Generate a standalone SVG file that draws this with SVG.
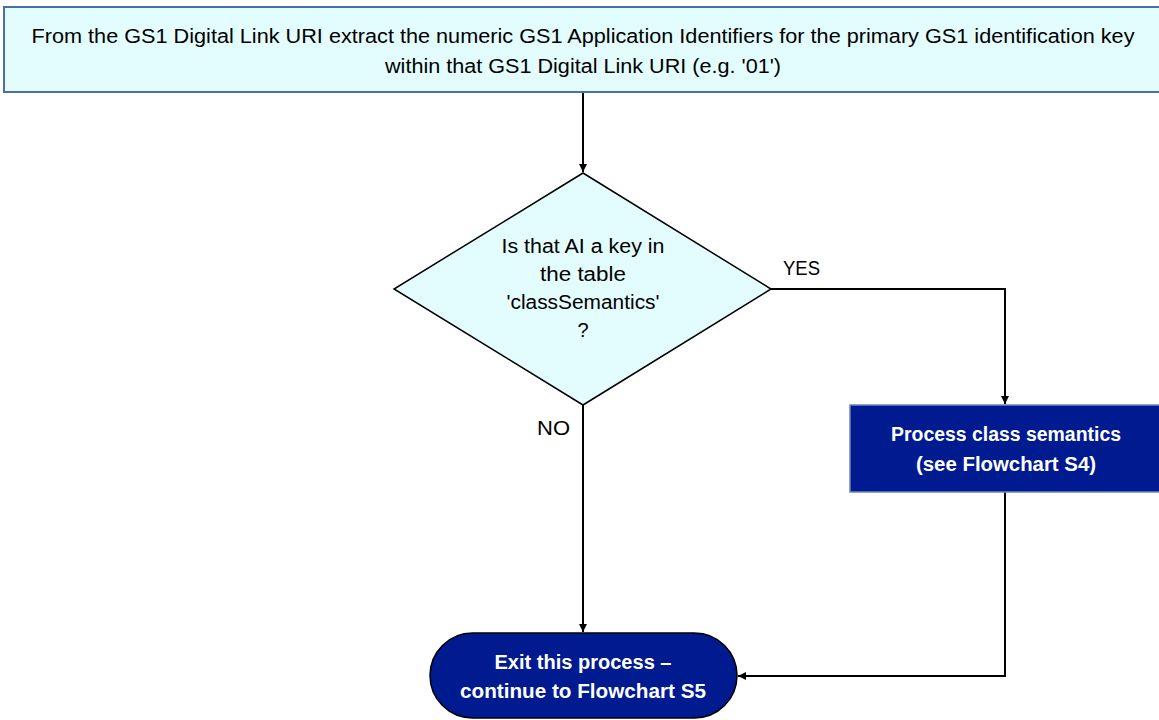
<svg xmlns="http://www.w3.org/2000/svg" width="1159" height="720" viewBox="0 0 1159 720">
<defs>
<marker id="arr" markerWidth="10" markerHeight="10" refX="9" refY="5" orient="auto" markerUnits="userSpaceOnUse">
<path d="M1,1 L9,5 L1,9 Z" fill="#000"/>
</marker>
<style>
.t{font-family:"Liberation Sans","Open Sans",Arial,sans-serif;font-size:20px;fill:#000;text-anchor:middle}
.w{font-family:"Liberation Sans","Open Sans",Arial,sans-serif;font-size:20px;font-weight:bold;fill:#fff;text-anchor:middle}
.lbl{font-family:"Liberation Sans","Open Sans",Arial,sans-serif;font-size:20px;fill:#000}
.c{fill:none;stroke:#000;stroke-width:2;marker-end:url(#arr)}
</style>
</defs>
<rect width="1159" height="720" fill="#fff"/>
<g id="connectors">
<path class="c" d="M583,92 L583,172"/>
<path class="c" d="M771,289 L1005,289 L1005,404"/>
<path class="c" d="M583,405 L583,632"/>
<path class="c" d="M1005,492 L1005,676 L738,676"/>
<text class="lbl" x="783" y="275" textLength="37" lengthAdjust="spacingAndGlyphs">YES</text>
<text class="lbl" x="537" y="435" textLength="33" lengthAdjust="spacingAndGlyphs">NO</text>
</g>
<g id="start">
<rect x="4" y="7" width="1165" height="85" fill="#E3FDFE" stroke="#4A6FA8" stroke-width="2"/>
<text class="t" x="583" y="43" textLength="1103" lengthAdjust="spacingAndGlyphs">From the GS1 Digital Link URI extract the numeric GS1 Application Identifiers for the primary GS1 identification key</text>
<text class="t" x="583" y="73" textLength="396" lengthAdjust="spacingAndGlyphs">within that GS1 Digital Link URI (e.g. '01')</text>
</g>
<g id="decision">
<polygon points="583,173 771,289 583,405 394,289" fill="#E3FDFE" stroke="#000" stroke-width="1.5"/>
<text class="t" x="583" y="253" textLength="163" lengthAdjust="spacingAndGlyphs">Is that AI a key in</text>
<text class="t" x="583" y="281" textLength="86" lengthAdjust="spacingAndGlyphs">the table</text>
<text class="t" x="583" y="309" textLength="153" lengthAdjust="spacingAndGlyphs">'classSemantics'</text>
<text class="t" x="583" y="337">?</text>
</g>
<g id="process">
<rect x="850" y="405" width="310" height="87" fill="#001A8F" stroke="#6F86B8" stroke-width="1.5"/>
<text class="w" x="1006" y="441" textLength="230" lengthAdjust="spacingAndGlyphs">Process class semantics</text>
<text class="w" x="1006" y="471" textLength="180" lengthAdjust="spacingAndGlyphs">(see Flowchart S4)</text>
</g>
<g id="exit">
<rect x="430" y="633" width="307" height="85" rx="42.5" ry="42.5" fill="#001A8F" stroke="#000" stroke-width="1.5"/>
<text class="w" x="583" y="669" textLength="177" lengthAdjust="spacingAndGlyphs">Exit this process –</text>
<text class="w" x="583" y="698" textLength="246" lengthAdjust="spacingAndGlyphs">continue to Flowchart S5</text>
</g>
</svg>
